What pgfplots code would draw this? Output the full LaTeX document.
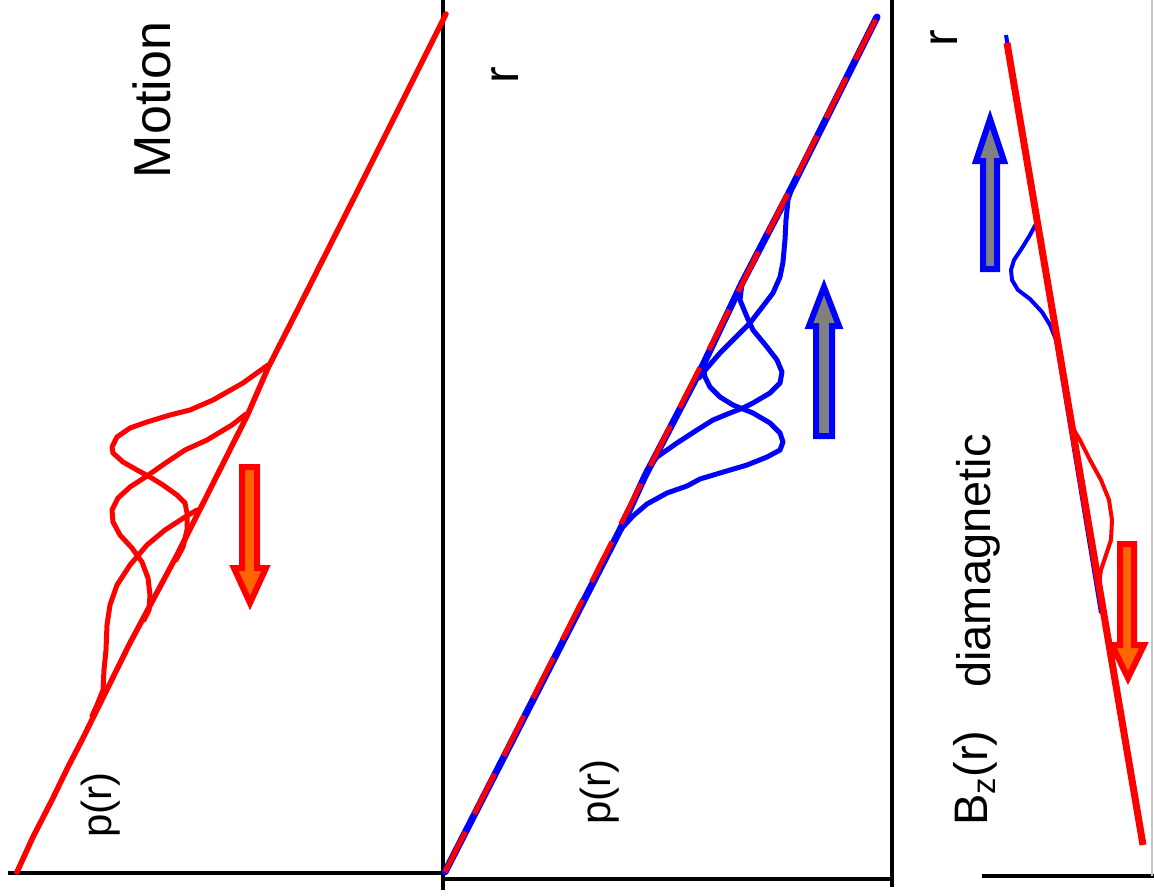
\documentclass[border=0pt]{standalone}
\usepackage{fontspec}
\setmainfont{Liberation Sans}
\usepackage{pgfplots}
\pgfplotsset{compat=1.18}
\definecolor{pred}{RGB}{255,0,0}
\definecolor{pblue}{RGB}{0,0,255}
\definecolor{porange}{RGB}{255,102,0}
\definecolor{pgray}{RGB}{128,128,128}
\begin{document}
\begin{tikzpicture}
\path[use as bounding box] (0,0) rectangle (1154pt,895pt);
\begin{axis}[at={(0,0)}, anchor=south west, scale only axis,
  width=1154pt, height=895pt, xmin=0, xmax=1154, ymin=0, ymax=895,
  y dir=reverse, hide axis, clip=true]
% ---- frame lines ----
\addplot[black, line width=4.5pt] coordinates {(8,873) (446,873)};
\addplot[black, line width=4.5pt] coordinates {(443,0) (443,890)};
\addplot[black, line width=4.5pt] coordinates {(441,879) (894,879)};
\addplot[black, line width=4.5pt] coordinates {(892,0) (892,887)};
\addplot[black, line width=4.5pt] coordinates {(982,876) (1154,876)};
\addplot[gray!45, line width=1.2pt] coordinates {(1152,0) (1152,876)};
% ---- panel 1: red profiles ----
\addplot[pred, line width=5.5pt, line join=round, line cap=round] coordinates {(17,872) (33,837) (52,800) (68,767) (82,740) (130,643) (177,555) (247,416) (268,368) (300,305) (360,186) (446,14)};
\addplot[pred, line width=5pt, line join=round, line cap=round] coordinates {(268,365) (243,383) (213,400) (190,410) (170,415) (147,422) (130,428) (117,437) (112,447) (113,453) (123,462) (137,470) (150,477) (163,485) (177,495) (185,503) (187,513) (187,530) (183,547) (176,560)};
\addplot[pred, line width=5pt, line join=round, line cap=round] coordinates {(246,414) (232,425) (207,440) (185,450) (167,462) (147,476) (130,487) (118,498) (112,510) (113,522) (120,535) (132,548) (142,562) (148,578) (150,595) (149,610) (144,620)};
\addplot[pred, line width=5pt, line join=round, line cap=round] coordinates {(197,510) (185,517) (165,530) (147,545) (130,565) (117,585) (110,605) (107,625) (106,650) (104,670) (103,690) (97,705) (92,716)};
% arrow down (panel 1)
\addplot[draw=pred, fill=porange, line width=6pt, line join=miter] coordinates {(249.5,467) (257,467) (257,568) (266,568) (250,603) (234,568) (242,568) (242,467) (249.5,467)};
% ---- panel 2: blue profiles with red dashed reference ----
\addplot[pblue, line width=5pt, line join=round, line cap=round] coordinates {(793,185) (788,200) (786,220) (785,240) (783,262) (780,277) (773,293) (760,310) (750,323) (733,340) (720,353) (707,368) (699,378)};
\addplot[pblue, line width=5pt, line join=round, line cap=round] coordinates {(742,283) (740,300) (747,317) (753,330) (767,347) (777,360) (782,372) (780,383) (770,393) (753,403) (743,408) (730,413) (713,420) (697,430) (677,443) (657,457) (647,470) (645,476)};
\addplot[pblue, line width=5pt, line join=round, line cap=round] coordinates {(703,365) (705,377) (710,387) (720,397) (733,405) (743,409) (753,413) (770,423) (780,433) (783,442) (780,450) (767,457) (747,465) (720,473) (700,479) (687,486) (667,493) (647,504) (633,516) (622,528)};
\addplot[pblue, line width=7pt, line join=round, line cap=round] coordinates {(445,872) (622,526) (645,476) (703,365) (742,283) (793,185) (877,17)};
\addplot[pred, line width=5pt, dash pattern=on 45pt off 20pt] coordinates {(445,872) (877,17)};
% arrow up (panel 2)
\addplot[draw=pblue, fill=pgray, line width=6pt, line join=miter] coordinates {(824,436) (832,436) (832,326) (839,326) (824,287) (809,326) (816,326) (816,436) (824,436)};
% ---- panel 3 ----
\addplot[pblue, line width=4pt, line join=round] coordinates {(1006,35) (1037,222)};
\addplot[pblue, line width=4pt, line join=round] coordinates {(1037,222) (1030,235) (1022,248) (1014,260) (1011,270) (1012,280) (1018,290) (1030,299) (1042,312) (1050,325) (1056,340)};
\addplot[pblue, line width=4pt, line join=round] coordinates {(1056,340) (1101,613)};
\addplot[pred, line width=7pt] coordinates {(1007,43) (1143,845)};
\addplot[pred, line width=4pt, line join=round] coordinates {(1071,425) (1080,440) (1090,460) (1101,480) (1109,500) (1112,520) (1111,540) (1106,555) (1101,570) (1099,585) (1100,598)};
% arrow up (panel 3)
\addplot[draw=pblue, fill=pgray, line width=6pt, line join=miter] coordinates {(990,269) (997,269) (997,161) (1004,161) (990,119) (976,161) (983,161) (983,269) (990,269)};
% arrow down (panel 3)
\addplot[draw=pred, fill=porange, line width=6pt, line join=miter] coordinates {(1127,544) (1134,544) (1134,645) (1144,645) (1128,678) (1112,645) (1120,645) (1120,544) (1127,544)};
% ---- texts ----
\node[rotate=90, anchor=base, inner sep=0pt, font=\fontsize{52}{60}\selectfont] at (axis cs:170,100) {Motion};
\node[rotate=90, anchor=center, inner sep=0pt, font=\fontsize{42}{50}\selectfont] at (axis cs:100.5,805) {p(r)};
\node[rotate=90, anchor=base, inner sep=0pt, font=\fontsize{50}{60}\selectfont] at (axis cs:518,75) {r};
\node[rotate=90, anchor=center, inner sep=0pt, font=\fontsize{42}{50}\selectfont] at (axis cs:600,792) {p(r)};
\node[rotate=90, anchor=base, inner sep=0pt, font=\fontsize{50}{60}\selectfont] at (axis cs:957,38) {r};
\node[rotate=90, anchor=base, inner sep=0pt, font=\fontsize{47}{56}\selectfont] at (axis cs:990,561) {diamagnetic};
\node[rotate=90, anchor=base, inner sep=0pt, font=\fontsize{47}{56}\selectfont] at (axis cs:987,778) {B\textsubscript{z}(r)};
\end{axis}
\end{tikzpicture}
\end{document}
